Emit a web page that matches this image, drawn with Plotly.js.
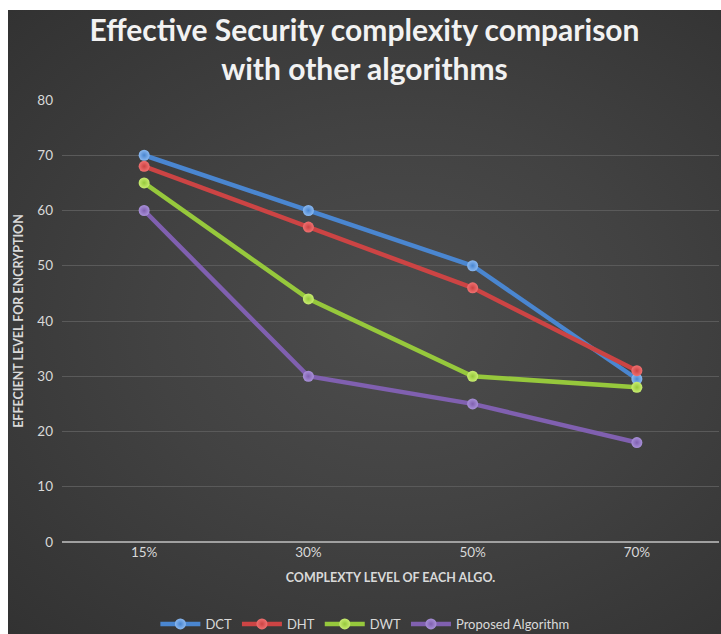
<!DOCTYPE html>
<html>
<head>
<meta charset="utf-8">
<script src="https://cdn.plot.ly/plotly-3.0.1.min.js"></script>
<style>
  html, body { margin: 0; padding: 0; background: #ffffff; }
  #chart {
    position: absolute; left: 8px; top: 10px; width: 713px; height: 624px;
    background: radial-gradient(ellipse at 55% 50%, #4d4d4d 0%, #424242 45%, #323232 100%);
  }
</style>
</head>
<body>
<div id="chart"></div>
<script>
const categories = ["15%", "30%", "50%", "70%"];
const seriesNames = ["DCT", "DHT", "DWT", "Proposed Algorithm"];
const dct = [70, 60, 50, 29.5];
const dht = [68, 57, 46, 31];
const dwt = [65, 44, 30, 28];
const proposed = [60, 30, 25, 18];
const yTicks = [0, 10, 20, 30, 40, 50, 60, 70, 80];

const values = [dct, dht, dwt, proposed];
const colors = ["#4a86d0", "#cc4444", "#96c83c", "#8060b0"];
const inner = ["#8ab8f0", "#f07070", "#c8ec70", "#a890d8"];

const traces = values.map((v, i) => ({
  x: categories,
  y: v,
  name: seriesNames[i],
  type: "scatter",
  mode: "lines+markers",
  line: { color: colors[i], width: 4.5 },
  marker: {
    color: inner[i], size: 11,
    gradient: { type: "radial", color: colors[i] },
    line: { width: 0 }
  }
}));

const font = "Lato, 'Open Sans', sans-serif";
const layout = {
  width: 713, height: 624,
  paper_bgcolor: "rgba(0,0,0,0)",
  plot_bgcolor: "rgba(0,0,0,0)",
  margin: { l: 54, r: 2, t: 90, b: 92, autoexpand: false },
  font: { family: font, color: "#d9d9d9", size: 13 },
  title: {
    text: "Effective Security complexity comparison<br>with other algorithms",
    font: { family: font, size: 30, color: "#f2f2f2", weight: "bold" },
    xref: "container", x: 0.5, xanchor: "center",
    yref: "container", y: 0.95, yanchor: "top"
  },
  xaxis: {
    type: "category",
    range: [-0.5, 3.5],
    showgrid: false,
    zeroline: false,
    showline: false,
    ticks: "",
    tickfont: { size: 13.5, color: "#d9d9d9" },
    title: { text: "COMPLEXTY LEVEL OF EACH ALGO.", font: { size: 12.5, color: "#d9d9d9", weight: "bold" }, standoff: 14 },
    fixedrange: true
  },
  yaxis: {
    range: [0, 80],
    tickvals: yTicks,
    ticktext: yTicks.map(String),
    showgrid: true,
    gridcolor: "#5a5a5a",
    gridwidth: 1,
    zeroline: true,
    zerolinecolor: "#a0a0a0",
    zerolinewidth: 1.5,
    showline: false,
    ticks: "",
    ticklabelstandoff: 8,
    tickfont: { size: 13.5, color: "#d9d9d9" },
    title: { text: "EFFECIENT LEVEL FOR ENCRYPTION", font: { size: 12.5, color: "#d9d9d9", weight: "bold" }, standoff: 10 },
    fixedrange: true
  },
  showlegend: true,
  legend: {
    orientation: "h",
    x: 0.461, xanchor: "center",
    yref: "container",
    y: 0.016, yanchor: "middle",
    font: { size: 13, color: "#d9d9d9" },
    bgcolor: "rgba(0,0,0,0)",
    itemwidth: 40
  }
};

Plotly.newPlot("chart", traces, layout, { displayModeBar: false, staticPlot: true });
</script>
</body>
</html>
